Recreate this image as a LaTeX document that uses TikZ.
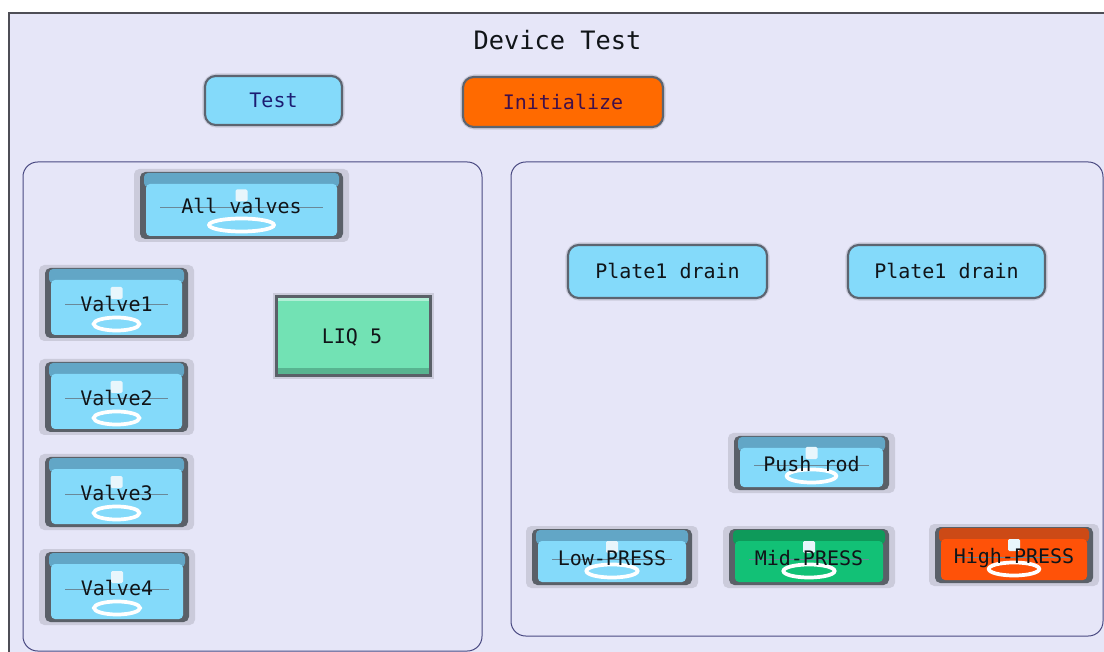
\documentclass[tikz,border=0pt]{standalone}
\usepackage{fontspec}
\newfontfamily\hmifont{DejaVu Sans Mono}

\definecolor{screenbg}{HTML}{E6E6F8}
\definecolor{framegray}{HTML}{4E4E56}
\definecolor{panelline}{HTML}{4A4A82}
\definecolor{halogray}{HTML}{CBCBDB}
\definecolor{sidegray}{HTML}{5A6068}
\definecolor{btnline}{HTML}{5C6470}
\definecolor{skyface}{HTML}{84DAFA}
\definecolor{skyband}{HTML}{62A6C6}
\definecolor{midface}{HTML}{12C176}
\definecolor{midband}{HTML}{0E9A5A}
\definecolor{highface}{HTML}{FF5208}
\definecolor{highband}{HTML}{CC4A16}
\definecolor{initface}{HTML}{FF6A00}
\definecolor{liqface}{HTML}{72E2B4}
\definecolor{liqband}{HTML}{58B490}
\definecolor{lampwhite}{HTML}{E8F6FC}
\definecolor{midlinegray}{HTML}{6A8898}
\definecolor{labelink}{HTML}{101418}
\definecolor{testink}{HTML}{1C1C72}
\definecolor{initink}{HTML}{40104A}

\tikzset{every picture/.style={line width=0.75pt}}
\tikzset{
    panel/.style={draw=panelline, line width=0.75pt, rounded corners=11pt},
    flatbtn/.style={draw=btnline, line width=1.6pt, rounded corners=8pt},
    btnhalo/.style={draw=halogray, line width=4pt, rounded corners=9pt},
    blabel/.style={font=\hmifont\fontsize{15}{15}\selectfont, text=labelink,
        inner sep=0pt, text height=11pt, text depth=0pt},
    titlelabel/.style={font=\hmifont\fontsize{19}{19}\selectfont, text=labelink,
        inner sep=0pt, text height=14pt, text depth=0pt},
    ring/.style={draw=white, line width=2.8pt},
}

% 3D push button: name, left, top, right, bottom, face, band, text
\newcommand{\hmivalve}[8]{%
    \pgfmathsetmacro{\vbx}{(#2+#4)/2}
    \pgfmathsetmacro{\vby}{(#3+#5)/2+1}
    \pgfmathsetmacro{\vbr}{0.16*(#4-#2)}
    \fill[halogray, rounded corners=4pt] (#2-6,#3-3) rectangle (#4+6,#5+3);
    \fill[sidegray, rounded corners=4pt] (#2,#3) rectangle (#4,#5);
    \fill[#7, rounded corners=3pt] (#2+4,#3+1) rectangle (#4-4,#3+15);
    \fill[#6, rounded corners=3pt] (#2+6,#3+12) rectangle (#4-6,#5-3);
    \draw[midlinegray] (#2+20,\vby+1) -- (#4-20,\vby+1);
    \fill[lampwhite, rounded corners=1pt] (\vbx-6,\vby-17) rectangle (\vbx+6,\vby-5);
    \draw[ring] (\vbx,#5-14) ellipse [x radius=\vbr, y radius=6.5];
    \node[blabel] (#1) at (\vbx,\vby) {#8};
}

\begin{document}
\begin{tikzpicture}[
            x=0.75pt,
            y=0.75pt,
            yscale=-1,
            xscale=1
        ]
    \useasboundingbox (0,0) rectangle (1104,652);
    \clip (0,0) rectangle (1104,652);
    \fill[white] (0,0) rectangle (1104,652);

    % screen
    \draw[draw=framegray, line width=2.2pt, fill=screenbg] (9,13) rectangle (1112,662);
    \node[titlelabel] (title) at (557.5,40) {Device Test};

    % top buttons
    \draw[btnhalo] (205,76) rectangle (342,125);
    \draw[flatbtn, fill=skyface] (205,76) rectangle (342,125);
    \node[blabel, text=testink] (test) at (273.5,100.5) {Test};

    \draw[btnhalo] (463,77) rectangle (663,127);
    \draw[flatbtn, fill=initface] (463,77) rectangle (663,127);
    \node[blabel, text=initink] (init) at (563,102) {Initialize};

    % panels
    \draw[panel] (23,162) rectangle (482,651);
    \draw[panel] (511,162) rectangle (1103,636);

    % valves
    \hmivalve{allvalves}{140}{172}{343}{239}{skyface}{skyband}{All valves}
    \hmivalve{valve1}{45}{268}{188}{338}{skyface}{skyband}{Valve1}
    \hmivalve{valve2}{45}{362}{188}{432}{skyface}{skyband}{Valve2}
    \hmivalve{valve3}{45}{457}{188}{527}{skyface}{skyband}{Valve3}
    \hmivalve{valve4}{45}{552}{189}{622}{skyface}{skyband}{Valve4}

    % liquid counter
    \fill[halogray] (273,293) rectangle (434,379);
    \fill[sidegray] (275,295) rectangle (432,377);
    \fill[liqface] (278,298) rectangle (429,374);
    \fill[liqband] (278,368) rectangle (429,374);
    \fill[liqface!55!white] (278,298) rectangle (429,301);
    \node[blabel] (liq) at (352,336) {LIQ 5};

    % drains
    \draw[btnhalo] (568,245) rectangle (767,298);
    \draw[flatbtn, fill=skyface] (568,245) rectangle (767,298);
    \node[blabel] (draina) at (667.5,271.5) {Plate1 drain};

    \draw[btnhalo] (848,245) rectangle (1045,298);
    \draw[flatbtn, fill=skyface] (848,245) rectangle (1045,298);
    \node[blabel] (drainb) at (946.5,271.5) {Plate1 drain};

    % rod and pressure
    \hmivalve{pushrod}{734}{436}{889}{490}{skyface}{skyband}{Push rod}
    \hmivalve{lowpress}{532}{529}{692}{585}{skyface}{skyband}{Low-PRESS}
    \hmivalve{midpress}{729}{529}{889}{585}{midface}{midband}{Mid-PRESS}
    \hmivalve{highpress}{935}{527}{1093}{583}{highface}{highband}{High-PRESS}
\end{tikzpicture}
\end{document}
